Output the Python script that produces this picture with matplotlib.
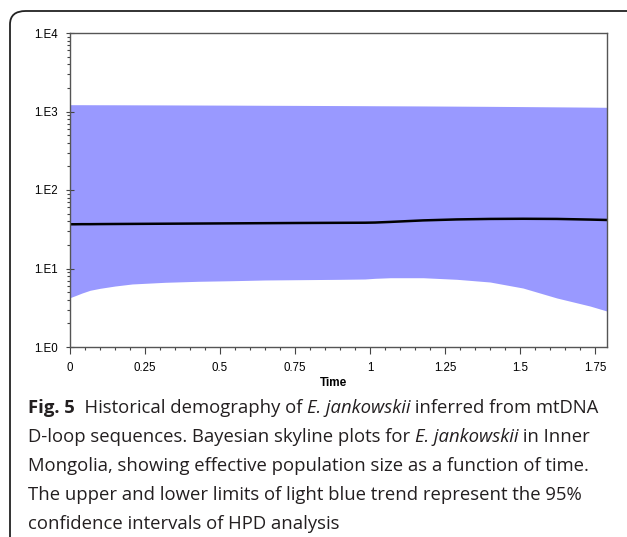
import matplotlib
matplotlib.use('Agg')
import matplotlib.pyplot as plt
from matplotlib.patches import FancyBboxPatch
from matplotlib.ticker import FixedLocator, MultipleLocator, LogLocator, NullFormatter
import numpy as np

# values
time = [0, 0.017, 0.04, 0.067, 0.1, 0.15, 0.207, 0.317, 0.427, 0.54, 0.65, 0.76,
        0.9, 0.983, 1.017, 1.067, 1.177, 1.29, 1.4, 1.51, 1.623, 1.733, 1.79]
upper = [1222, 1221, 1221, 1220, 1219, 1218, 1216, 1213, 1209, 1205, 1200, 1196,
         1190, 1186, 1184, 1182, 1177, 1170, 1163, 1155, 1146, 1137, 1131]
median = [36.6, 36.6, 36.7, 36.7, 36.8, 36.9, 37.0, 37.2, 37.4, 37.6, 37.8, 38.0,
          38.2, 38.3, 38.5, 39.2, 41.0, 42.2, 42.8, 43.0, 42.8, 42.0, 41.5]
lower = [4.25, 4.50, 4.87, 5.28, 5.59, 5.98, 6.35, 6.67, 6.87, 6.99, 7.14, 7.20,
         7.28, 7.35, 7.50, 7.63, 7.63, 7.28, 6.73, 5.64, 4.21, 3.33, 2.87]

xticks = [0, 0.25, 0.5, 0.75, 1, 1.25, 1.5, 1.75]
xticklabels = ['0', '0.25', '0.5', '0.75', '1', '1.25', '1.5', '1.75']
yticks = [1, 10, 100, 1000, 10000]
yticklabels = ['1.E0', '1.E1', '1.E2', '1.E3', '1.E4']

fig = plt.figure(figsize=(6.27, 5.37), dpi=100)

# rounded frame of the figure panel (only top and left edges are visible)
frame = FancyBboxPatch((10/627, -0.2), 1.2, 1 - 11/537 + 0.2,
                       boxstyle='round,pad=0,rounding_size=0.025',
                       transform=fig.transFigure, fill=False,
                       edgecolor='#222222', linewidth=1.3)
fig.patches.append(frame)

ax = fig.add_axes([70/627, 1 - 347/537, 537/627, 314/537])
ax.fill_between(time, lower, upper, color='#9999ff', linewidth=0)
ax.plot(time, median, color='black', linewidth=1.8)

ax.set_yscale('log')
ax.set_ylim(1, 10000)
ax.set_xlim(0, 1.79)

ax.xaxis.set_major_locator(FixedLocator(xticks))
ax.set_xticklabels(xticklabels)
ax.xaxis.set_minor_locator(MultipleLocator(0.05))
ax.yaxis.set_major_locator(FixedLocator(yticks))
ax.set_yticklabels(yticklabels)
ax.yaxis.set_minor_locator(LogLocator(base=10, subs=np.arange(2, 10)))
ax.yaxis.set_minor_formatter(NullFormatter())

for s in ax.spines.values():
    s.set_color('#555555')
    s.set_linewidth(1.0)

ax.tick_params(axis='x', which='major', direction='out', length=5, width=0.8,
               color='#444444', labelsize=8.3, pad=6)
ax.tick_params(axis='x', which='minor', direction='out', length=2.5, width=0.8, color='#444444')
ax.tick_params(axis='y', which='major', direction='inout', length=6, width=0.8,
               color='#444444', labelsize=8.3, pad=6)
ax.tick_params(axis='y', which='minor', direction='out', length=2.5, width=0.8, color='#444444')
for lab in ax.get_xticklabels() + ax.get_yticklabels():
    lab.set_family('Liberation Sans')

fig.text(333/627, 1 - 383/537, 'Time', ha='center', va='center',
         fontsize=8.5, fontweight='bold', family='Liberation Sans')

# caption, drawn as runs of text so that bold and italic can be mixed
caption = [
    [('Fig. 5', 'bold', 'normal'), ('  Historical demography of ', 'normal', 'normal'),
     ('E. jankowskii', 'normal', 'italic'), (' inferred from mtDNA', 'normal', 'normal')],
    [('D-loop sequences. Bayesian skyline plots for ', 'normal', 'normal'),
     ('E. jankowskii', 'normal', 'italic'), (' in Inner', 'normal', 'normal')],
    [('Mongolia, showing effective population size as a function of time.', 'normal', 'normal')],
    [('The upper and lower limits of light blue trend represent the 95%', 'normal', 'normal')],
    [('confidence intervals of HPD analysis', 'normal', 'normal')],
]
line_y = [408, 437, 466, 495, 524]

fig.canvas.draw()
renderer = fig.canvas.get_renderer()
for runs, yy in zip(caption, line_y):
    x = 28
    for txt, weight, style in runs:
        t = fig.text(x/627, 1 - yy/537, txt, ha='left', va='center', fontsize=13.3,
                     family='Open Sans', fontweight=weight, fontstyle=style, color='#231f20')
        bb = t.get_window_extent(renderer=renderer)
        x += bb.width

fig.savefig('out.png', dpi=100)
